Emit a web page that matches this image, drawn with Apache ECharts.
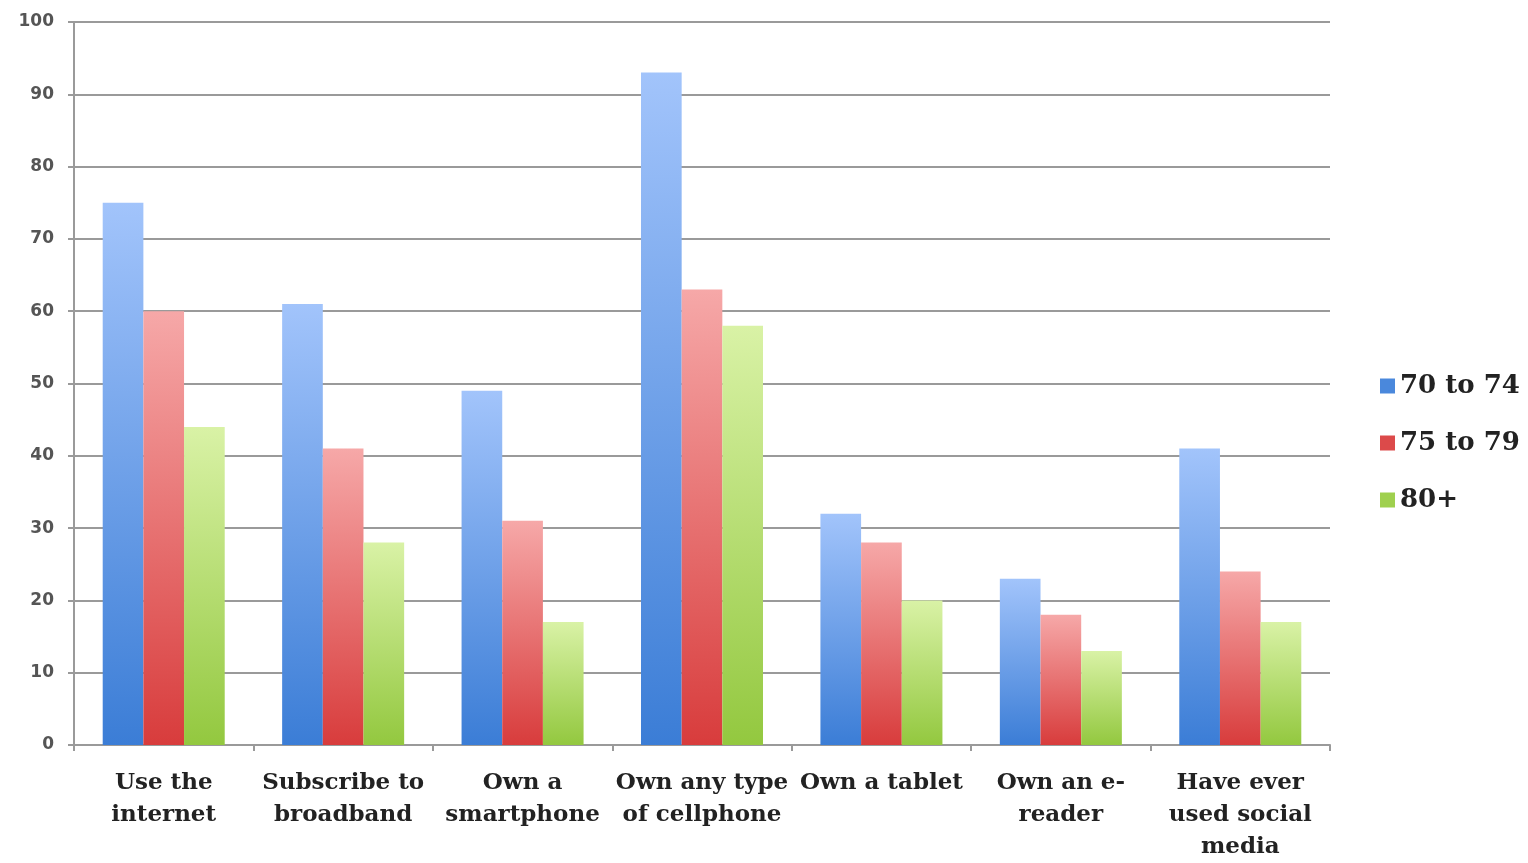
<!DOCTYPE html>
<html><head><meta charset="utf-8">
<script src="https://cdn.jsdelivr.net/npm/echarts@6/dist/echarts.min.js"></script>
<style>html,body{margin:0;padding:0;background:#fff}#c{width:1528px;height:863px}</style>
</head><body><div id="c"></div>
<script>
var categories = ["Use the\ninternet","Subscribe to\nbroadband","Own a\nsmartphone","Own any type\nof cellphone","Own a tablet","Own an e-\nreader","Have ever\nused social\nmedia"];
var seriesNames = ["70 to 74","75 to 79","80+"];
var age70to74 = [75, 61, 49, 93, 32, 23, 41];
var age75to79 = [60, 41, 31, 63, 28, 18, 24];
var age80plus = [44, 28, 17, 58, 20, 13, 17];
var yTicks = [0,10,20,30,40,50,60,70,80,90,100];

var grads = [["#a2c4fb","#3b7dd6"],["#f6a8a8","#d83c3c"],["#d9f2a6","#93c83f"]];
var solid = ["#4a88dc","#dc4a4a","#9fd04e"];
function grad(i){return new echarts.graphic.LinearGradient(0,0,0,1,[{offset:0,color:grads[i][0]},{offset:1,color:grads[i][1]}]);}
var dataSets=[age70to74,age75to79,age80plus];
var chart = echarts.init(document.getElementById('c'));
chart.setOption({
  animation:false,
  grid:{left:74,right:198,top:22,bottom:106},
  legend:{orient:'vertical',left:1375,top:368,itemWidth:15,itemHeight:15,itemGap:31,icon:'rect',
    textStyle:{fontFamily:'DejaVu Serif',fontWeight:'bold',fontSize:26,color:'#222'},
    data:seriesNames.map(function(n,i){return {name:n,itemStyle:{color:solid[i]}};})},
  xAxis:{type:'category',data:categories,
    axisLine:{lineStyle:{color:'#9a9a9a',width:2}},
    axisTick:{show:true,length:6,lineStyle:{color:'#9a9a9a',width:2}},
    axisLabel:{interval:0,margin:22,fontFamily:'DejaVu Serif',fontWeight:'bold',fontSize:23,lineHeight:32,color:'#222'}},
  yAxis:{type:'value',min:0,max:100,interval:10,
    axisLine:{show:true,lineStyle:{color:'#9a9a9a',width:2}},
    axisTick:{show:true,length:6,lineStyle:{color:'#9a9a9a',width:2}},
    splitLine:{lineStyle:{color:'#9a9a9a',width:2}},
    axisLabel:{margin:20,fontFamily:'DejaVu Sans',fontWeight:'bold',fontSize:17,color:'#555',
      formatter:function(v){return yTicks.indexOf(v)>=0?String(v):'';}}},
  series:dataSets.map(function(d,i){return {name:seriesNames[i],type:'bar',data:d,barGap:'0%',barCategoryGap:'32%',itemStyle:{color:grad(i)}};})
});
</script></body></html>
